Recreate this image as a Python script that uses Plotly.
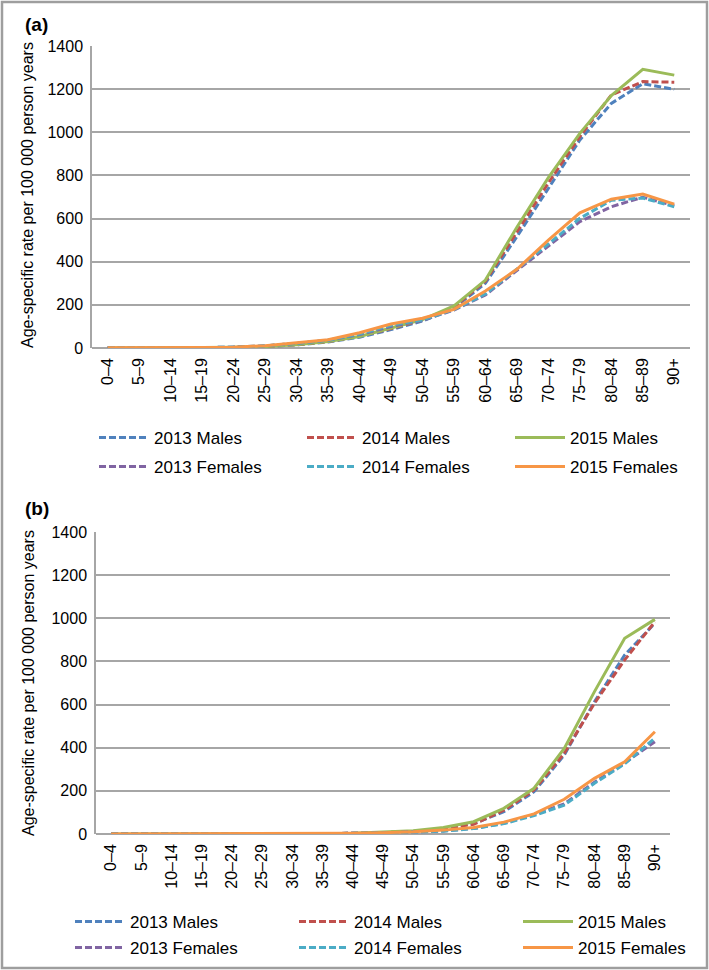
import plotly.graph_objects as go

W, H = 709, 970

age_groups = ["0–4", "5–9", "10–14", "15–19", "20–24", "25–29", "30–34", "35–39",
              "40–44", "45–49", "50–54", "55–59", "60–64", "65–69", "70–74",
              "75–79", "80–84", "85–89", "90+"]

series_names = ["2013 Males", "2014 Males", "2015 Males",
                "2013 Females", "2014 Females", "2015 Females"]

# Panel (a)
a_2013_males = [1, 0.5, 1, 2, 3, 7, 14, 28, 50, 85, 125, 185, 300, 516, 740, 964, 1134, 1225, 1199]
a_2014_males = [1, 0.5, 1, 2, 3, 7, 15, 30, 55, 90, 130, 190, 310, 539, 765, 980, 1173, 1235, 1232]
a_2015_males = [1, 0.5, 1, 2, 3, 7, 15, 30, 53, 92, 132, 195, 315, 560, 790, 995, 1170, 1292, 1265]
a_2013_females = [1, 0.5, 1, 2, 4, 10, 22, 36, 62, 100, 128, 176, 246, 360, 470, 586, 655, 699, 660]
a_2014_females = [1, 0.5, 1, 2, 4, 10, 22, 36, 65, 105, 130, 178, 250, 365, 482, 601, 685, 695, 655]
a_2015_females = [1, 0.5, 1, 2, 4, 11, 24, 38, 71, 111, 138, 179, 264, 365, 500, 627, 690, 714, 667]

# Panel (b)
b_2013_males = [0, 0, 0, 0, 0, 0, 1, 2, 3, 6, 12, 25, 48, 103, 196, 366, 613, 830, 977]
b_2014_males = [0, 0, 0, 0, 0, 0, 1, 2, 3, 6, 12, 25, 45, 110, 204, 374, 606, 807, 984]
b_2015_males = [0, 0, 0, 0, 0, 0, 1, 2, 4, 8, 15, 30, 57, 119, 212, 397, 660, 907, 995]
b_2013_females = [0, 0, 0, 0, 0, 0, 1, 2, 3, 5, 9, 14, 26, 50, 90, 140, 240, 330, 428]
b_2014_females = [0, 0, 0, 0, 0, 0, 1, 2, 3, 5, 9, 13, 25, 48, 85, 134, 235, 325, 444]
b_2015_females = [0, 0, 0, 0, 0, 0, 1, 2, 3, 6, 10, 18, 30, 55, 93, 161, 258, 335, 474]

y_ticks = [0, 200, 400, 600, 800, 1000, 1200, 1400]

colors = ["#4F81BD", "#C0504D", "#9BBB59", "#8064A2", "#4BACC6", "#F79646"]
dashes = ["7px,3px", "7px,3px", "solid", "7px,3px", "7px,3px", "solid"]

panel_a = [a_2013_males, a_2014_males, a_2015_males, a_2013_females, a_2014_females, a_2015_females]
panel_b = [b_2013_males, b_2014_males, b_2015_males, b_2013_females, b_2014_females, b_2015_females]

# legend row for each series (males row / females row) per panel
legends_a = ["legend", "legend", "legend", "legend2", "legend2", "legend2"]
legends_b = ["legend3", "legend3", "legend3", "legend4", "legend4", "legend4"]

FONT = "Liberation Sans, Arial, sans-serif"

fig = go.Figure()
for name, vals, c, d, lg in zip(series_names, panel_a, colors, dashes, legends_a):
    fig.add_trace(go.Scatter(x=age_groups, y=vals, name=name, mode="lines",
                             line=dict(color=c, width=3, dash=d),
                             xaxis="x", yaxis="y", legend=lg))
for name, vals, c, d, lg in zip(series_names, panel_b, colors, dashes, legends_b):
    fig.add_trace(go.Scatter(x=age_groups, y=vals, name=name, mode="lines",
                             line=dict(color=c, width=3, dash=d),
                             xaxis="x2", yaxis="y2", legend=lg))


def px_x(p):
    return p / W


def px_y(p):
    return 1 - p / H


grid = "#A6A6A6"
xcommon = dict(type="category", range=[-0.5, 18.5], tickangle=-90, showgrid=False,
               showline=False, ticks="", automargin=False, ticklabelstandoff=6,
               tickfont=dict(size=16, color="#000000", family=FONT))
ycommon = dict(range=[0, 1400], tickvals=y_ticks, showgrid=True, gridcolor=grid, gridwidth=1.5,
               showline=True, linecolor=grid, linewidth=1.5, ticks="", automargin=False,
               ticklabelstandoff=4,
               zeroline=True, zerolinecolor=grid, zerolinewidth=1.5,
               tickfont=dict(size=16, color="#000000", family=FONT))


def row_legend(x_px, top_px, entry):
    return dict(orientation="h", x=px_x(x_px), y=px_y(top_px), xanchor="left", yanchor="top",
                entrywidth=entry, entrywidthmode="pixels", itemwidth=50,
                font=dict(size=17, family=FONT), bgcolor="rgba(0,0,0,0)",
                traceorder="normal")


fig.update_layout(
    width=W, height=H,
    margin=dict(l=0, r=0, t=0, b=0, autoexpand=False),
    paper_bgcolor="white", plot_bgcolor="white",
    font=dict(family=FONT, size=16, color="#000000"),
    showlegend=True,
    xaxis=dict(domain=[px_x(92), px_x(690)], anchor="y", **xcommon),
    yaxis=dict(domain=[px_y(348), px_y(46)], anchor="x", **ycommon),
    xaxis2=dict(domain=[px_x(96), px_x(670)], anchor="y2", **xcommon),
    yaxis2=dict(domain=[px_y(834), px_y(532)], anchor="x2", **ycommon),
    legend=row_legend(94, 420, 143),
    legend2=row_legend(94, 449, 143),
    legend3=row_legend(70, 904, 159),
    legend4=row_legend(70, 930, 159),
)

ytitle = "Age-specific rate per 100 000 person years"
annotations = [
    dict(text="<b>(a)</b>", x=px_x(36), y=px_y(24), xref="paper", yref="paper",
         xanchor="center", yanchor="middle", showarrow=False, font=dict(size=19, family=FONT)),
    dict(text="<b>(b)</b>", x=px_x(37), y=px_y(508), xref="paper", yref="paper",
         xanchor="center", yanchor="middle", showarrow=False, font=dict(size=19, family=FONT)),
    dict(text=ytitle, textangle=-90, x=px_x(28), y=px_y(195), xref="paper", yref="paper",
         xanchor="center", yanchor="middle", showarrow=False, font=dict(size=16, family=FONT)),
    dict(text=ytitle, textangle=-90, x=px_x(28), y=px_y(683), xref="paper", yref="paper",
         xanchor="center", yanchor="middle", showarrow=False, font=dict(size=16, family=FONT)),
]
fig.update_layout(annotations=annotations)

fig.add_shape(type="rect", xref="paper", yref="paper",
              x0=px_x(2), x1=px_x(707), y0=px_y(968), y1=px_y(2),
              line=dict(color="#9E9E9E", width=2.5), fillcolor="rgba(0,0,0,0)", layer="above")

fig.write_html("out.html", config={"displayModeBar": False},
               post_script="document.body.style.margin='0';document.body.style.overflow='hidden';")
